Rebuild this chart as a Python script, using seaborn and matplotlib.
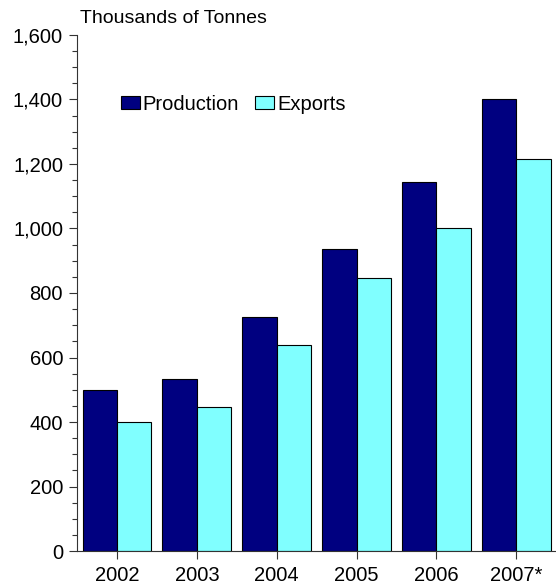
import matplotlib
matplotlib.use("Agg")
import matplotlib.pyplot as plt
import seaborn as sns
import pandas as pd
from matplotlib.ticker import MultipleLocator, FuncFormatter
from matplotlib.patches import Patch

years = ["2002", "2003", "2004", "2005", "2006", "2007*"]
production = [500, 533, 727, 935, 1145, 1400]
exports = [400, 445, 638, 847, 1000, 1214]
series = ["Production", "Exports"]
colors = ["#000080", "#80FFFF"]

df = pd.DataFrame({
    "year": years * 2,
    "value": production + exports,
    "series": [series[0]] * len(years) + [series[1]] * len(years),
})

sns.set_style("white")
plt.rcParams["font.family"] = ["Liberation Sans", "DejaVu Sans"]
plt.rcParams["text.color"] = "black"

fig = plt.figure(figsize=(5.56, 5.86), dpi=100)
ax = fig.add_axes([0.1385, 0.0597, 0.862, 0.8806])

sns.barplot(data=df, x="year", y="value", hue="series", palette=colors,
            width=0.86, edgecolor="black", linewidth=0.8, saturation=1,
            ax=ax, legend=False)

fs = 14.5
ax.set_ylim(0, 1600)
ax.set_xlim(-0.5, len(years) - 0.5)
ax.yaxis.set_major_locator(MultipleLocator(200))
ax.yaxis.set_minor_locator(MultipleLocator(50))
ax.yaxis.set_major_formatter(FuncFormatter(lambda v, p: f"{int(v):,}"))
ax.tick_params(axis="y", which="major", direction="out", length=6, width=0.8,
               colors="#333333", labelcolor="black", labelsize=fs, left=True, pad=4)
ax.tick_params(axis="y", which="minor", direction="out", length=3.6, width=0.8,
               colors="#333333", left=True)
ax.tick_params(axis="x", direction="out", length=6, width=0.8,
               colors="#333333", labelcolor="black", labelsize=fs, bottom=True, pad=4.5)
ax.set_xlabel("")
ax.set_ylabel("")
for s in ["top", "right"]:
    ax.spines[s].set_visible(False)
for s in ["left", "bottom"]:
    ax.spines[s].set_color("#333333")
    ax.spines[s].set_linewidth(0.8)

fig.text(0.143, 0.969, "Thousands of Tonnes", fontsize=14, color="black",
         ha="left", va="center")

handles = [Patch(facecolor=c, edgecolor="black", linewidth=0.8, label=l)
           for c, l in zip(colors, series)]
leg = ax.legend(handles=handles, loc="center left", bbox_to_anchor=(0.091, 0.866),
                ncol=2, frameon=False, fontsize=fs, handlelength=0.95,
                handleheight=0.6, handletextpad=0.15, columnspacing=0.8,
                borderaxespad=0, borderpad=0)
for t in leg.get_texts():
    t.set_color("black")

fig.savefig("out.png", dpi=100)
